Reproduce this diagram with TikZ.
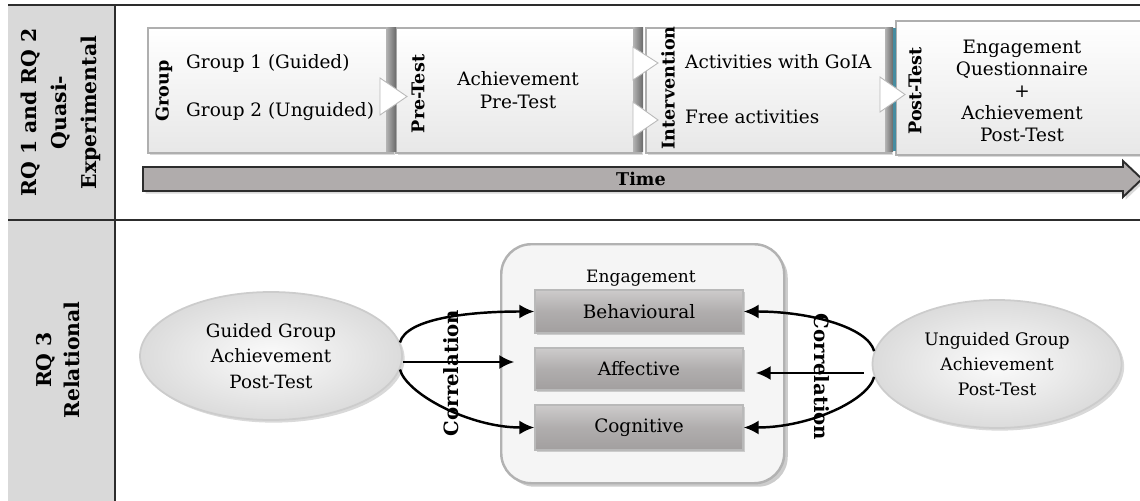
\documentclass[tikz,border=0pt]{standalone}
\usepackage{fontspec}
\setmainfont{DejaVu Serif}
\usetikzlibrary{calc,arrows.meta,positioning,shapes.geometric,shadows}
\definecolor{headGray}{RGB}{217,217,217}
\definecolor{ruleDark}{RGB}{45,45,45}
\definecolor{boxFace}{RGB}{243,243,243}
\definecolor{boxEdge}{RGB}{175,175,175}
\definecolor{barDark}{RGB}{105,105,105}
\definecolor{timeGray}{RGB}{176,172,172}
\definecolor{dimGray}{RGB}{162,159,159}
\definecolor{dimLight}{RGB}{205,203,203}
\definecolor{postTeal}{RGB}{70,140,160}

\begin{document}
\begin{tikzpicture}[x=1cm,y=1cm,
  every node/.style={font=\fontsize{10.5}{13}\selectfont},
  stagebox/.style={anchor=north west,draw=boxEdge,top color=white,bottom color=boxFace!90!gray,line width=0.9pt,inner sep=0pt,
    drop shadow={shadow xshift=1.5pt,shadow yshift=-1.5pt,opacity=0.3}},
  tablabel/.style={rotate=90,font=\bfseries\fontsize{10}{11}\selectfont},
  chev/.style={fill=white,draw=gray!55,line width=0.5pt},
  sidebar/.style={left color=barDark!50,right color=barDark,draw=none},
  grpellipse/.style={ellipse,draw=gray!40,inner color=gray!3,outer color=gray!28,line width=1pt,align=center,inner sep=0pt,
    minimum height=2.56cm,drop shadow={shadow xshift=1.5pt,shadow yshift=-1.5pt,opacity=0.3}},
  dimbox/.style={draw=gray!55,top color=dimLight,bottom color=dimGray,middle color=dimGray!85!white,line width=0.8pt,minimum width=4.16cm,
    drop shadow={shadow xshift=1.2pt,shadow yshift=-1.2pt,opacity=0.35}},
  corrarrow/.style={-{Latex[length=8.5pt,width=8pt]},line width=1.4pt},
  corrlabel/.style={font=\bfseries\fontsize{11.2}{12}\selectfont}
]
\path[use as bounding box] (0,0) rectangle (22.80,-10.02);

% table frame
\fill[headGray] (0.16,-0.10) rectangle (2.30,-10.02);
\draw[ruleDark,line width=1.1pt] (0.16,-0.10) -- (22.80,-0.10);
\draw[ruleDark,line width=0.9pt] (0.16,-4.40) -- (22.80,-4.40);
\draw[ruleDark,line width=0.9pt] (2.30,-0.10) -- (2.30,-10.02);

\node[rotate=90,align=center,font=\bfseries\fontsize{11.6}{17}\selectfont] (rqA) at (1.22,-2.25) {RQ 1 and RQ 2\\Quasi-\\Experimental};
\node[rotate=90,align=center,font=\bfseries\fontsize{11.6}{16}\selectfont] (rqB) at (1.16,-7.20) {RQ 3\\Relational};

% design stages
\node[stagebox,minimum width=4.90cm,minimum height=2.50cm] (gBox) at (2.94,-0.54) {};
\node[stagebox,minimum width=4.90cm,minimum height=2.50cm] (pBox) at (7.90,-0.54) {};
\node[stagebox,minimum width=4.90cm,minimum height=2.50cm] (iBox) at (12.90,-0.54) {};
\node[stagebox,minimum width=5.00cm,minimum height=2.68cm] (tBox) at (17.90,-0.40) {};

\fill[sidebar] (7.72,-0.56) rectangle (7.92,-3.02);
\fill[sidebar] (12.66,-0.56) rectangle (12.86,-3.02);
\fill[sidebar] (17.70,-0.56) rectangle (17.86,-3.02);
\fill[postTeal] (17.86,-0.56) rectangle (17.91,-3.02);

\filldraw[chev] (7.60,-1.56) -- (8.14,-1.93) -- (7.60,-2.30) -- cycle;
\filldraw[chev] (12.66,-0.94) -- (13.16,-1.26) -- (12.66,-1.60) -- cycle;
\filldraw[chev] (12.66,-2.04) -- (13.16,-2.40) -- (12.66,-2.74) -- cycle;
\filldraw[chev] (17.60,-1.54) -- (18.10,-1.89) -- (17.60,-2.24) -- cycle;

\node[tablabel] (gTab) at (3.28,-1.82) {Group};
\node[anchor=west] (g1) at (3.60,-1.26) {Group 1 (Guided)};
\node[anchor=west] (g2) at (3.60,-2.24) {Group 2 (Unguided)};

\node[tablabel] (pTab) at (8.36,-1.88) {Pre-Test};
\node[align=center] (pTxt) at (10.36,-1.80) {Achievement\\Pre-Test};

\node[tablabel] (iTab) at (13.36,-1.76) {Intervention};
\node[anchor=west] (i1) at (13.58,-1.24) {Activities with GoIA};
\node[anchor=west] (i2) at (13.58,-2.34) {Free activities};

\node[tablabel] (tTab) at (18.30,-1.82) {Post-Test};
\node[align=center,font=\fontsize{10.5}{12.6}\selectfont] (tTxt) at (20.44,-1.82) {Engagement\\Questionnaire\\+\\Achievement\\Post-Test};

% time line
\filldraw[fill=timeGray,draw=ruleDark,line width=1.1pt,drop shadow={shadow xshift=1.5pt,shadow yshift=-1.5pt,opacity=0.3}]
  (2.86,-3.34) -- (22.46,-3.34) -- (22.46,-3.22) -- (22.84,-3.58) -- (22.46,-3.94) -- (22.46,-3.82) -- (2.86,-3.82) -- cycle;
\node[font=\bfseries\fontsize{10}{11}\selectfont] (time) at (12.82,-3.58) {Time};

% relational part
\node[grpellipse,minimum width=5.24cm,font=\fontsize{10.4}{14.4}\selectfont] (gl) at (5.42,-7.12) {Guided Group\\Achievement\\Post-Test};
\node[grpellipse,minimum width=4.98cm,font=\fontsize{9.8}{14}\selectfont] (gr) at (19.94,-7.28) {Unguided Group\\Achievement\\Post-Test};

\node[anchor=north west,rounded corners=0.6cm,draw=gray!60,fill=gray!8,line width=1.4pt,minimum width=5.66cm,minimum height=4.78cm,
  drop shadow={shadow xshift=2pt,shadow yshift=-2pt,opacity=0.4}] (eng) at (10.00,-4.86) {};
\node[font=\fontsize{9.7}{11}\selectfont] (engLab) at (12.82,-5.56) {Engagement};
\node[dimbox,minimum height=0.86cm] (beh) at (12.78,-6.23) {Behavioural};
\node[dimbox,minimum height=0.84cm] (aff) at (12.78,-7.38) {Affective};
\node[dimbox,minimum height=0.90cm] (cog) at (12.78,-8.55) {Cognitive};

\draw[corrarrow] (gl.6) .. controls +(75:0.5) and +(180:1.3) .. (beh.west);
\draw[corrarrow,shorten >=0.40cm] ([yshift=-0.12cm]gl.east) -- ([yshift=-0.12cm]gl.east -| aff.west);
\draw[corrarrow] (gl.-6) .. controls +(-75:0.5) and +(180:1.3) .. (cog.west);

\draw[corrarrow] (gr.174) .. controls +(105:0.5) and +(0:1.3) .. (beh.east);
\draw[corrarrow,shorten <=0.16cm,shorten >=0.24cm] ([yshift=-0.18cm]gr.west) -- ([yshift=-0.18cm]gr.west -| aff.east);
\draw[corrarrow] (gr.186) .. controls +(-105:0.5) and +(0:1.3) .. (cog.east);

\node[corrlabel,rotate=90] (corrL) at (9.02,-7.46) {Correlation};
\node[corrlabel,rotate=-90] (corrR) at (16.44,-7.54) {Correlation};
\end{tikzpicture}
\end{document}
